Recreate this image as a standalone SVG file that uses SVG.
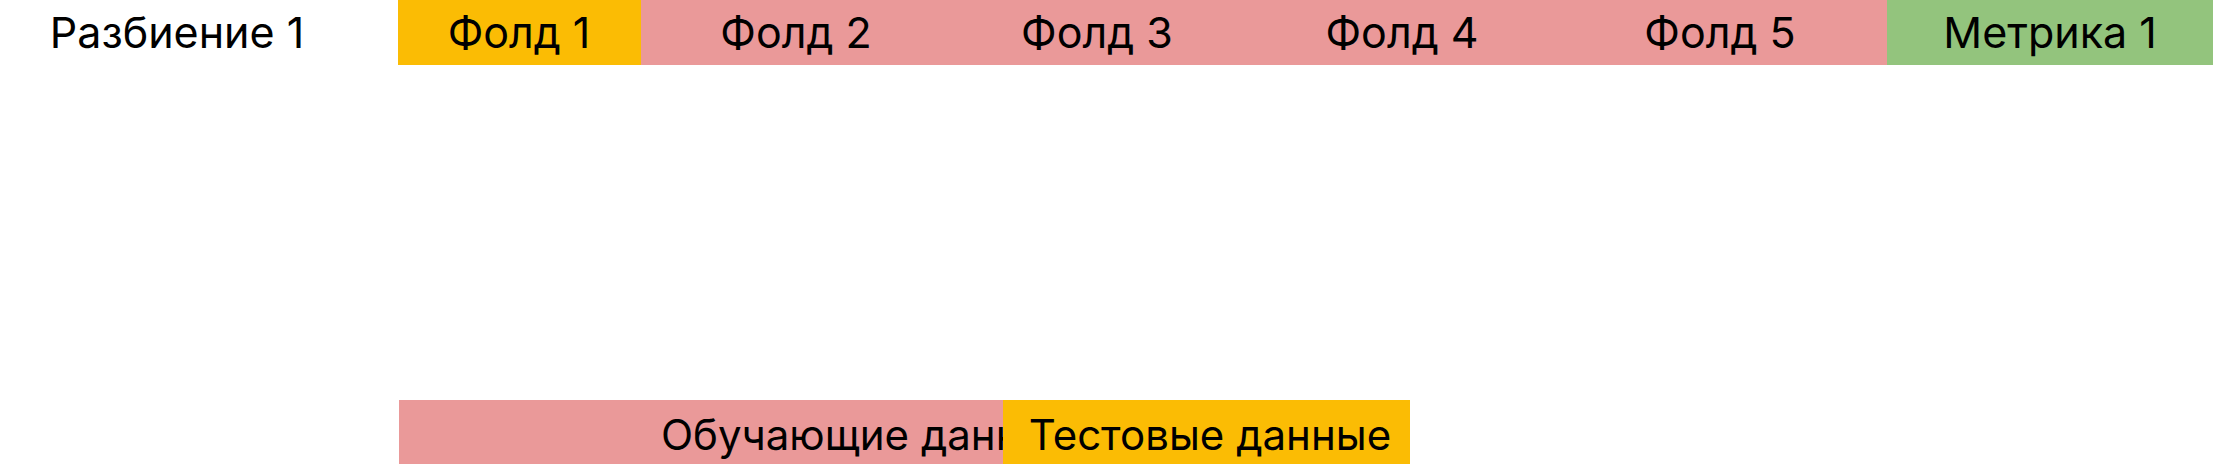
<svg xmlns="http://www.w3.org/2000/svg" width="2220" height="464" viewBox="0 0 2220 464">
<style>
.t{font-family:Inter,"Noto Sans","Liberation Sans",sans-serif;font-size:43px;fill:#000;}
.b{font-size:42px;}
.m{text-anchor:middle;}
.y{fill:#FBBC04;}
.p{fill:#EA9999;}
.g{fill:#93C47D;}
</style>
<defs>
<clipPath id="trainClip"><rect x="399" y="400" width="604" height="64"/></clipPath>
</defs>
<rect width="2220" height="464" fill="#ffffff"/>
<g id="label-split">
<text class="t m" x="177" y="48">Разбиение 1</text>
</g>
<g id="fold1">
<rect class="y" x="398" y="0" width="243" height="65"/>
<text class="t m" x="519" y="48">Фолд 1</text>
</g>
<g id="fold2-5">
<rect class="p" x="641" y="0" width="1246" height="65"/>
</g>
<g id="fold2"><text class="t m" x="796" y="48">Фолд 2</text></g>
<g id="fold3"><text class="t m" x="1097" y="48">Фолд 3</text></g>
<g id="fold4"><text class="t m" x="1402" y="48">Фолд 4</text></g>
<g id="fold5"><text class="t m" x="1720" y="48">Фолд 5</text></g>
<g id="metric">
<rect class="g" x="1887" y="0" width="326" height="65"/>
<text class="t m" x="2050" y="48">Метрика 1</text>
</g>
<g id="train">
<rect class="p" x="399" y="400" width="604" height="64"/>
<text class="t b" x="661" y="450" clip-path="url(#trainClip)">Обучающие данные</text>
</g>
<g id="test">
<rect class="y" x="1003" y="400" width="407" height="64"/>
<text class="t b m" x="1210" y="450">Тестовые данные</text>
</g>
<g id="connectors"></g>
</svg>
